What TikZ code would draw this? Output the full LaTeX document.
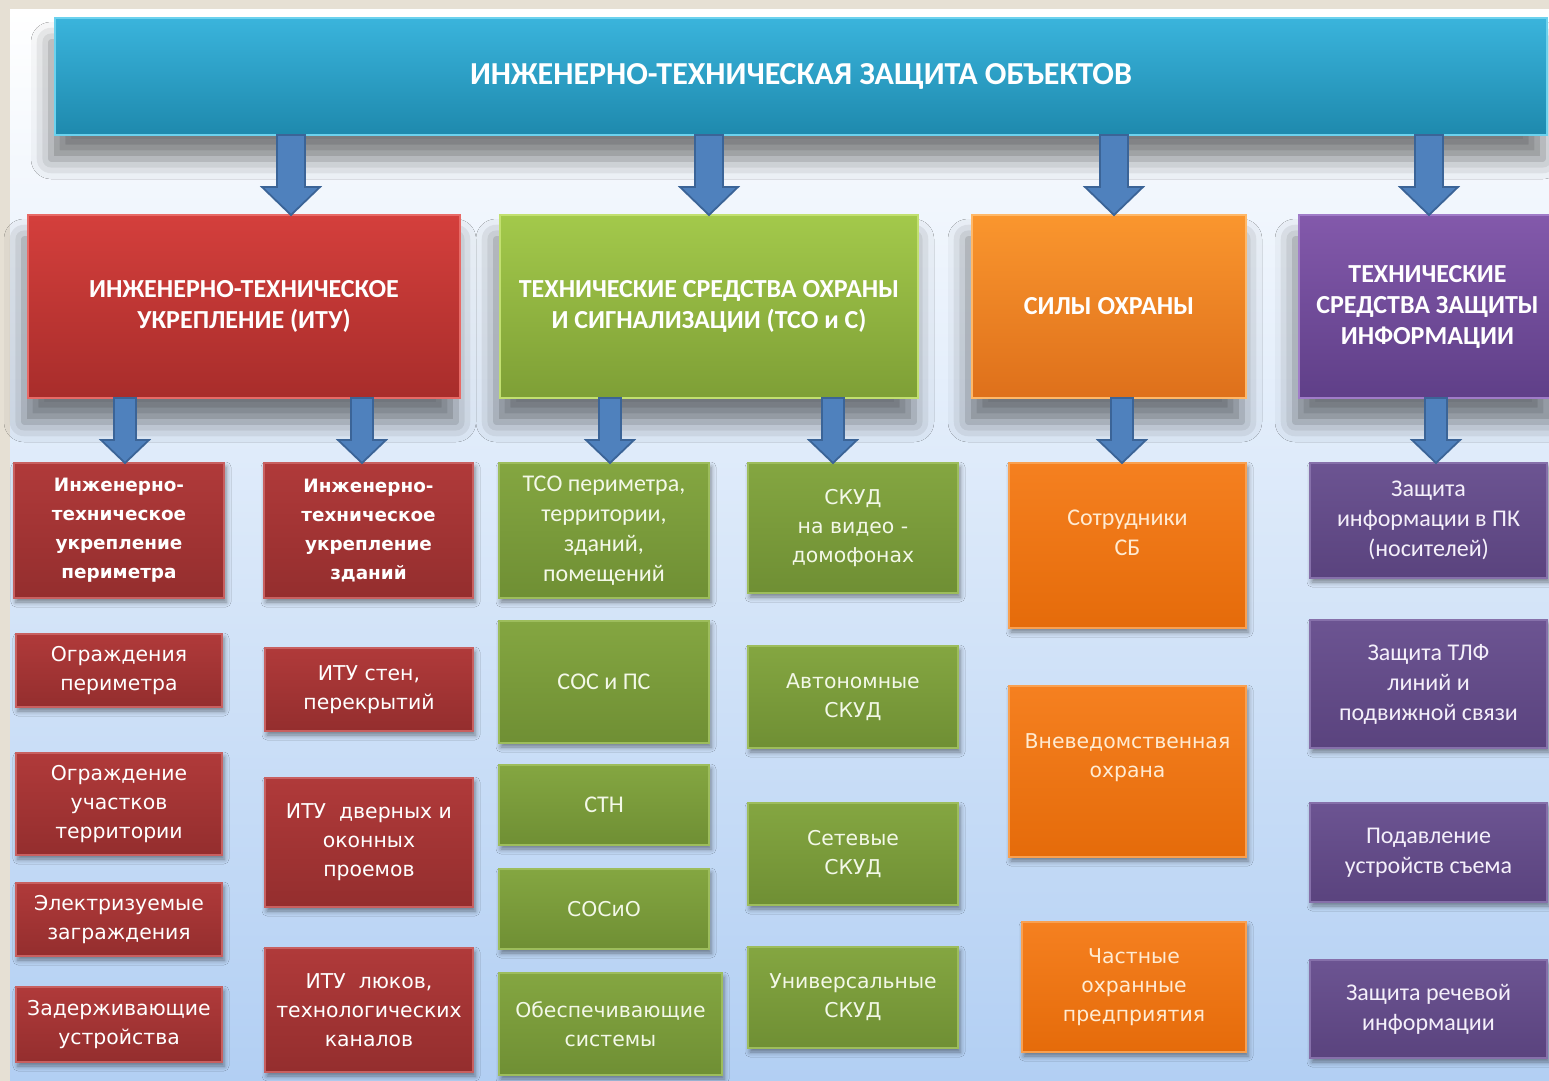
\documentclass[tikz,border=0pt]{standalone}
\usepackage{fontspec}
\setmainfont{Carlito}
\newfontfamily\widefont{DejaVu Sans}
\usetikzlibrary{calc,shadows.blur}
\definecolor{FrameBeige}{HTML}{E6E0D4}
\definecolor{SkyLow}{HTML}{B2CFF3}
\definecolor{TitleTop}{HTML}{3AB4DC}
\definecolor{TitleBot}{HTML}{1E89AD}
\definecolor{TitleEdge}{HTML}{6CD2EE}
\definecolor{RedTop}{HTML}{D43F3C}
\definecolor{RedBot}{HTML}{A82D2B}
\definecolor{RedEdge}{HTML}{E86A66}
\definecolor{GreenTop}{HTML}{A3C94B}
\definecolor{GreenBot}{HTML}{7E9F36}
\definecolor{GreenEdge}{HTML}{C2E070}
\definecolor{OrangeTop}{HTML}{FA962E}
\definecolor{OrangeBot}{HTML}{DE701B}
\definecolor{OrangeEdge}{HTML}{FFB868}
\definecolor{PurpleTop}{HTML}{8359AB}
\definecolor{PurpleBot}{HTML}{5F3F88}
\definecolor{PurpleEdge}{HTML}{A07CC8}
\definecolor{RedSTop}{HTML}{B03A3A}
\definecolor{RedSBot}{HTML}{942E2E}
\definecolor{RedSEdge}{HTML}{C86060}
\definecolor{RedSInk}{HTML}{FFFFFF}
\definecolor{GreenSTop}{HTML}{84A641}
\definecolor{GreenSBot}{HTML}{6F8F34}
\definecolor{GreenSEdge}{HTML}{9DBD5C}
\definecolor{GreenSInk}{HTML}{F3F8E8}
\definecolor{OrangeSTop}{HTML}{F58020}
\definecolor{OrangeSBot}{HTML}{E56B0A}
\definecolor{OrangeSEdge}{HTML}{F9A050}
\definecolor{OrangeSInk}{HTML}{FFEBD2}
\definecolor{PurpleSTop}{HTML}{6C5492}
\definecolor{PurpleSBot}{HTML}{5A437E}
\definecolor{PurpleSEdge}{HTML}{8670AA}
\definecolor{PurpleSInk}{HTML}{F4EFFA}
\definecolor{ArrowBlue}{HTML}{4F81BD}
\definecolor{ArrowEdge}{HTML}{3B6497}

\tikzset{
  area/.style n args={4}{at={({(#1+#3)/2},{(#2+#4)/2})},
    minimum width={(#3-#1)*0.5pt}, minimum height={(#4-#2)*0.5pt}},
  bigshadow/.style={blur shadow={shadow xshift=-2pt, shadow yshift=-12pt, shadow blur radius=10pt, shadow opacity=50}},
  smallshadow/.style={blur shadow={shadow xshift=1pt, shadow yshift=-2pt, shadow blur radius=2.5pt, shadow opacity=45}},
  box/.style={inner sep=0pt, outer sep=0pt, align=center, line width=0.8pt},
  titlebox/.style={box, bigshadow, top color=TitleTop, bottom color=TitleBot, draw=TitleEdge,
    text=white, font=\fontsize{16}{19}\selectfont\bfseries},
  headbox/.style={box, bigshadow, top color=#1Top, bottom color=#1Bot, draw=#1Edge,
    text=white, font=\fontsize{13}{15.5}\selectfont\bfseries},
  itembox/.style={box, smallshadow, top color=#1STop, bottom color=#1SBot, draw=#1SEdge, text=#1SInk},
  calib/.style={font=\fontsize{12}{15}\selectfont},
  wide/.style={font=\widefont\fontsize{10.2}{14.5}\selectfont},
  widebold/.style={font=\widefont\fontsize{9.2}{14.5}\selectfont\bfseries},
  arrowblock/.style={fill=ArrowBlue, draw=ArrowEdge, line width=0.9pt, line join=miter}
}

\newcommand{\blockarrow}[5]{%
  \filldraw[arrowblock] let \p1=(#1), \p2=(#2) in
    (\x1-#3,\y1) -- (\x1-#3,\y2+#5) -- (\x1-#4,\y2+#5) -- (\x1,\y2)
    -- (\x1+#4,\y2+#5) -- (\x1+#3,\y2+#5) -- (\x1+#3,\y1) -- cycle;}

\begin{document}
\begin{tikzpicture}[x=0.5pt, y=-0.5pt]
  \useasboundingbox (0,0) rectangle (1549,1081);
  \fill[FrameBeige] (0,0) rectangle (1549,1081);
  \shade[top color=white, middle color=white, bottom color=SkyLow] (10,10) rectangle (1549,1081);

  \node[titlebox, area={55}{18}{1547}{135}] (ttl) {ИНЖЕНЕРНО-ТЕХНИЧЕСКАЯ ЗАЩИТА ОБЪЕКТОВ};

  \node[headbox=Red, area={28}{215}{460}{398}] (itu) {ИНЖЕНЕРНО-ТЕХНИЧЕСКОЕ\\УКРЕПЛЕНИЕ (ИТУ)};
  \node[headbox=Green, area={500}{215}{918}{398}] (tso) {ТЕХНИЧЕСКИЕ СРЕДСТВА ОХРАНЫ\\И СИГНАЛИЗАЦИИ (ТСО и С)};
  \node[headbox=Orange, area={972}{215}{1246}{398}] (sil) {СИЛЫ ОХРАНЫ};
  \node[headbox=Purple, area={1299}{215}{1556}{398}] (tszi) {ТЕХНИЧЕСКИЕ\\СРЕДСТВА ЗАЩИТЫ\\ИНФОРМАЦИИ};

  \node[itembox=Red, widebold, area={14}{463}{224}{598}] (per) {Инженерно-\\техническое\\укрепление\\периметра};
  \node[itembox=Red, wide, area={16}{634}{222}{707}] (ogp) {Ограждения\\периметра};
  \node[itembox=Red, wide, area={16}{753}{222}{855}] (ogu) {Ограждение\\участков\\территории};
  \node[itembox=Red, wide, area={16}{883}{222}{956}] (elz) {Электризуемые\\заграждения};
  \node[itembox=Red, wide, area={16}{987}{222}{1062}] (zad) {Задерживающие\\устройства};

  \node[itembox=Red, widebold, area={264}{463}{473}{598}] (zd) {Инженерно-\\техническое\\укрепление\\зданий};
  \node[itembox=Red, wide, area={265}{648}{473}{731}] (sten) {ИТУ стен,\\перекрытий};
  \node[itembox=Red, wide, area={265}{778}{473}{907}] (dvr) {ИТУ~~дверных и\\оконных\\проемов};
  \node[itembox=Red, wide, area={265}{948}{473}{1072}] (lyk) {ИТУ~~люков,\\технологических\\каналов};

  \node[itembox=Green, calib, area={499}{463}{709}{598}] (tsop) {ТСО периметра,\\территории,\\зданий,\\помещений};
  \node[itembox=Green, calib, area={499}{621}{709}{743}] (sos) {СОС и ПС};
  \node[itembox=Green, calib, area={499}{765}{709}{845}] (stn) {СТН};
  \node[itembox=Green, wide, area={499}{869}{709}{949}] (sosio) {СОСиО};
  \node[itembox=Green, wide, area={499}{973}{722}{1075}] (obs) {Обеспечивающие\\системы};

  \node[itembox=Green, wide, area={748}{463}{958}{593}] (skv) {СКУД\\на видео -\\домофонах};
  \node[itembox=Green, wide, area={748}{646}{958}{748}] (ska) {Автономные\\СКУД};
  \node[itembox=Green, wide, area={748}{803}{958}{905}] (sks) {Сетевые\\СКУД};
  \node[itembox=Green, wide, area={748}{947}{958}{1048}] (sku) {Универсальные\\СКУД};

  \node[itembox=Orange, calib, area={1009}{463}{1246}{628}] (sotr) {Сотрудники\\СБ\\[-7pt]\strut};
  \node[itembox=Orange, wide, area={1009}{686}{1246}{857}] (vnev) {Вневедомственная\\охрана\\[-3pt]\strut};
  \node[itembox=Orange, wide, area={1022}{922}{1246}{1052}] (chop) {Частные\\охранные\\предприятия};

  \node[itembox=Purple, calib, area={1310}{463}{1547}{578}] (zpk) {Защита\\информации в ПК\\(носителей)};
  \node[itembox=Purple, calib, area={1310}{620}{1547}{748}] (ztlf) {Защита ТЛФ\\линий и\\подвижной связи};
  \node[itembox=Purple, calib, area={1310}{803}{1547}{902}] (podv) {Подавление\\устройств съема};
  \node[itembox=Purple, calib, area={1310}{960}{1547}{1058}] (zrech) {Защита речевой\\информации};

  \coordinate (a1) at (291,0);
  \coordinate (a2) at (709,0);
  \coordinate (a3) at (1114,0);
  \coordinate (a4) at (1429,0);
  \coordinate (b1) at (125,0);
  \coordinate (b2) at (362,0);
  \coordinate (b3) at (610,0);
  \coordinate (b4) at (833,0);
  \coordinate (b5) at (1122,0);
  \coordinate (b6) at (1436,0);

  \blockarrow{ttl.south -| a1}{itu.north -| a1}{7pt}{14.5pt}{14pt}
  \blockarrow{ttl.south -| a2}{tso.north -| a2}{7pt}{14.5pt}{14pt}
  \blockarrow{ttl.south -| a3}{sil.north -| a3}{7pt}{14.5pt}{14pt}
  \blockarrow{ttl.south -| a4}{tszi.north -| a4}{7pt}{14.5pt}{14pt}

  \blockarrow{itu.south -| b1}{per.north -| b1}{5.5pt}{12pt}{11.5pt}
  \blockarrow{itu.south -| b2}{zd.north -| b2}{5.5pt}{12pt}{11.5pt}
  \blockarrow{tso.south -| b3}{tsop.north -| b3}{5.5pt}{12pt}{11.5pt}
  \blockarrow{tso.south -| b4}{skv.north -| b4}{5.5pt}{12pt}{11.5pt}
  \blockarrow{sil.south -| b5}{sotr.north -| b5}{5.5pt}{12pt}{11.5pt}
  \blockarrow{tszi.south -| b6}{zpk.north -| b6}{5.5pt}{12pt}{11.5pt}
\end{tikzpicture}
\end{document}
